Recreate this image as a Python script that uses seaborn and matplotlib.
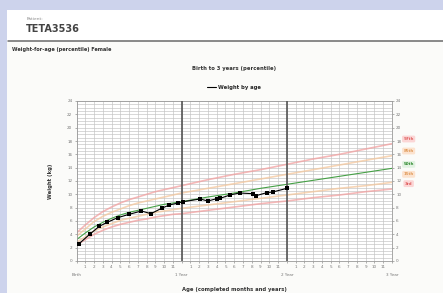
import numpy as np
import pandas as pd
import seaborn as sns
import matplotlib.pyplot as plt
from matplotlib.patches import Rectangle
from matplotlib.lines import Line2D
from matplotlib.ticker import MultipleLocator

# reference percentile curves (girls, weight in kg by age in months)
ref_months = [0, 1, 2, 3, 4, 5, 6, 7, 8, 9, 10, 11, 12, 15, 18, 21, 24, 27, 30, 33, 36]
p97 = [4.2, 5.4, 6.5, 7.4, 8.1, 8.7, 9.2, 9.6, 10.0, 10.4, 10.7, 11.0, 11.3, 12.2, 13.0, 13.7, 14.5, 15.3, 16.0, 16.8, 17.6]
p85 = [3.7, 4.8, 5.9, 6.7, 7.3, 7.8, 8.3, 8.7, 9.0, 9.3, 9.6, 9.9, 10.2, 10.9, 11.6, 12.3, 13.0, 13.7, 14.4, 15.1, 15.8]
p50 = [3.2, 4.2, 5.1, 5.8, 6.4, 6.9, 7.3, 7.6, 7.9, 8.2, 8.5, 8.7, 8.9, 9.6, 10.2, 10.9, 11.5, 12.1, 12.7, 13.3, 13.9]
p15 = [2.8, 3.6, 4.5, 5.1, 5.6, 6.1, 6.4, 6.7, 7.0, 7.3, 7.5, 7.7, 7.9, 8.4, 8.9, 9.4, 9.9, 10.4, 10.9, 11.3, 11.8]
p3 = [2.4, 3.2, 4.0, 4.6, 5.1, 5.5, 5.8, 6.1, 6.3, 6.6, 6.8, 7.0, 7.1, 7.6, 8.1, 8.6, 9.0, 9.5, 9.9, 10.4, 10.8]
pct_names = ['97th', '85th', '50th', '15th', '3rd']
pct_colors = ['#f2a0a0', '#f5c89e', '#46a046', '#f5c89e', '#f2a0a0']
pct_text = ['#e06060', '#e09a5a', '#2f8a2f', '#e09a5a', '#e06060']
pct_fill = ['#fbd6d6', '#fce3cf', '#e2f2e2', '#fce3cf', '#fbd6d6']
pct_label_y = [18.3, 16.5, 14.5, 13.0, 11.6]

# patient measurements
patient_age = [0.3, 1.5, 2.6, 3.5, 4.7, 6.0, 7.4, 8.5, 9.7, 10.6, 11.6, 12.2, 14.1, 15.0, 16.0,
               16.4, 17.5, 18.6, 20.1, 20.5, 21.7, 22.4, 24.0]
patient_wt = [2.6, 4.0, 5.2, 5.8, 6.5, 7.0, 7.5, 7.1, 7.9, 8.4, 8.7, 8.9, 9.3, 9.0, 9.35,
              9.4, 9.9, 10.2, 10.1, 9.8, 10.25, 10.35, 10.9]

year_labels = ['Birth', '1 Year', '2 Year', '3 Year']
month_labels = ['' if m % 12 == 0 else str(m % 12) for m in range(37)]

ref = pd.DataFrame({
    'month': ref_months * 5,
    'weight': p97 + p85 + p50 + p15 + p3,
    'pct': np.repeat(pct_names, len(ref_months)),
})

sns.set_style('white')
plt.rcParams['font.family'] = ['DejaVu Sans']

W, H = 443, 293
fig = plt.figure(figsize=(W / 100, H / 100), dpi=100)
fig.patch.set_facecolor('#cdd3ec')
fig.add_artist(Rectangle((7 / W, 0), 1, 1 - 10 / H, transform=fig.transFigure,
                         facecolor='white', edgecolor='none', zorder=-5))
fig.add_artist(Rectangle((7 / W, 0), 1, 1 - 41 / H, transform=fig.transFigure,
                         facecolor='#fbfbf9', edgecolor='none', zorder=-4))
fig.add_artist(Line2D([8 / W, 1], [1 - 41 / H, 1 - 41 / H], transform=fig.transFigure,
                      color='#6a6a6a', lw=1.1))

fig.text(27 / W, 1 - 19 / H, 'Patient:', fontsize=3.2, color='#8a8a8a', va='center')
fig.text(26 / W, 1 - 29 / H, 'TETA3536', fontsize=7, weight='semibold', color='#444444', va='center')
fig.text(12 / W, 1 - 50 / H, 'Weight-for-age (percentile) Female', fontsize=3.6,
         weight='bold', color='#333333', va='center')

ax = fig.add_axes([76.5 / W, 1 - 261 / H, (392 - 76.5) / W, (261 - 101) / H])
ax.set_facecolor('white')

sns.lineplot(data=ref, x='month', y='weight', hue='pct', hue_order=pct_names,
             palette=dict(zip(pct_names, pct_colors)), legend=False, ax=ax, lw=1.2)
for i, ln in enumerate(ax.lines):
    if pct_names[i] == '50th':
        ln.set_linewidth(0.8)
    else:
        ln.set_alpha(0.75)

sns.lineplot(x=patient_age, y=patient_wt, color='black', lw=0.8, marker='s',
             markersize=2.2, markeredgewidth=0, ax=ax, zorder=5)

ax.set_xlim(0, 36)
ax.set_ylim(0, 24)
ax.set_xticks(range(37))
ax.set_xticklabels(month_labels)
ax.yaxis.set_major_locator(MultipleLocator(2))
ax.yaxis.set_minor_locator(MultipleLocator(0.5))
ax.grid(True, which='both', color='#c2c2c2', lw=0.45)
ax.set_axisbelow(True)
for m in (12, 24):
    ax.axvline(m, color='#555555', lw=1.2, zorder=3)
for s in ax.spines.values():
    s.set_color('#999999')
    s.set_linewidth(0.6)
ax.tick_params(axis='both', which='major', labelsize=3.0, length=1.5, width=0.4,
               pad=1.5, colors='#777777', right=True, labelright=True, bottom=True, left=True)
ax.tick_params(axis='y', which='minor', length=0)

for k, lab in enumerate(year_labels):
    ax.text(12 * k, -0.085, lab, transform=ax.get_xaxis_transform(), fontsize=3.0,
            color='#777777', ha='center', va='center')

for name, y, tc, fc in zip(pct_names, pct_label_y, pct_text, pct_fill):
    ax.text(37.9, y, name, fontsize=2.9, color=tc, ha='center', va='center', clip_on=False,
            weight='bold', bbox=dict(boxstyle='round,pad=0.35', fc=fc, ec='none'))

ax.set_xlabel('Age (completed months and years)', fontsize=3.8, weight='bold',
              color='#333333', labelpad=13)
ax.set_ylabel('Weight (kg)', fontsize=3.8, weight='bold', color='#333333', labelpad=10)

ax.legend(handles=[Line2D([0], [0], color='black', lw=0.8)], labels=['Weight by age'],
          loc='lower center', bbox_to_anchor=(0.5, 1.04), frameon=False,
          prop={'size': 3.8, 'weight': 'bold'}, handlelength=1.6, handletextpad=0.4)
ax.set_title('Birth to 3 years (percentile)', fontsize=3.8, weight='bold',
             color='#333333', pad=22)

fig.savefig('out.png', dpi=100)
